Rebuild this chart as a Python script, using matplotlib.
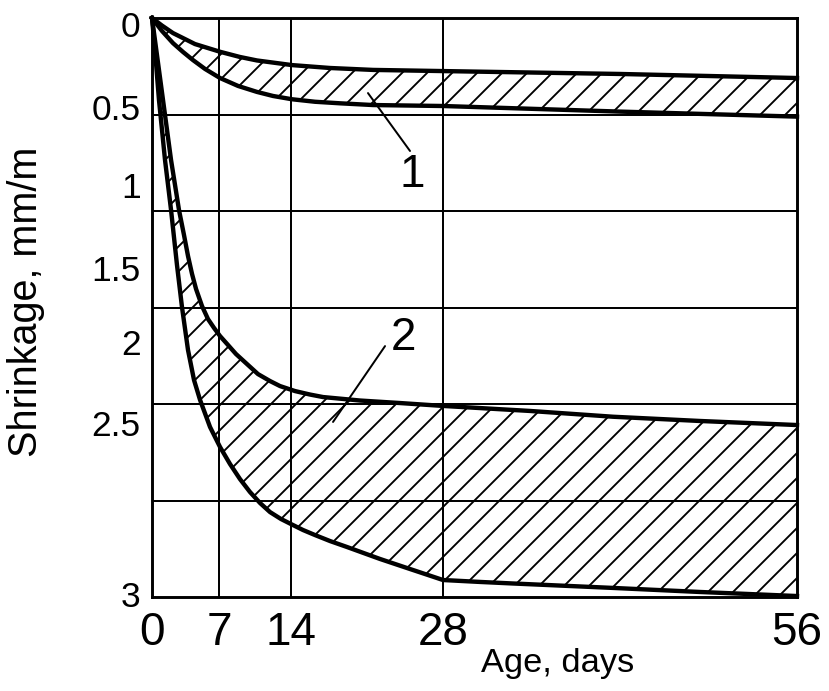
import numpy as np
import matplotlib
matplotlib.use("Agg")
import matplotlib.pyplot as plt

plt.rcParams['font.family'] = ['Liberation Sans', 'DejaVu Sans']
plt.rcParams['hatch.linewidth'] = 0.9

# age axis is drawn with uneven spacing between the marked days
axis_days = [0, 7, 14, 28, 56]
axis_frac = [0, 0.1039, 0.2155, 0.4512, 1.0]

# band 1: upper and lower bounding curves (age in days, shrinkage in mm/m)
band1_top_days = [0, 1.04, 2.19, 4.49, 7.10, 9.04, 10.69, 14.09, 17.59, 21.55, 28, 42, 56]
band1_top_val = [0, 0.039, 0.078, 0.135, 0.175, 0.202, 0.220, 0.244, 0.259, 0.269, 0.275, 0.290, 0.311]
band1_bot_days = [0, 1.04, 2.19, 3.24, 4.28, 5.54, 7.10, 8.85, 10.69, 12.25, 14.09, 16.21, 18.51,
                  21.55, 28, 42, 56]
band1_bot_val = [0, 0.067, 0.130, 0.176, 0.218, 0.264, 0.311, 0.352, 0.383, 0.404, 0.421, 0.434, 0.442,
                 0.451, 0.456, 0.485, 0.511]

# band 2
band2_top_days = [0, 0.52, 1.15, 1.99, 2.82, 3.34, 3.76, 4.18, 4.60, 5.22, 5.85, 6.48, 7.10, 7.87,
                  8.65, 9.72, 10.79, 11.96, 12.93, 14.37, 15.75, 16.95, 20.36, 24.04, 28, 34.88,
                  41.45, 48.33, 56]
band2_top_val = [0, 0.192, 0.425, 0.736, 0.995, 1.124, 1.233, 1.326, 1.404, 1.492, 1.560, 1.606,
                 1.648, 1.694, 1.741, 1.793, 1.845, 1.881, 1.907, 1.933, 1.951, 1.964, 1.982,
                 1.995, 2.010, 2.036, 2.066, 2.088, 2.109]
band2_bot_days = [0, 0.31, 0.73, 1.36, 1.99, 2.61, 3.13, 3.76, 4.39, 5.02, 6.06, 7.10, 8.07, 9.04,
                  10.01, 10.99, 11.96, 13.03, 14.0, 15.11, 16.21, 17.59, 19.16, 22.20, 24.96, 28,
                  30.93, 33.54, 41.45, 48.33, 56]
band2_bot_val = [0, 0.166, 0.425, 0.736, 0.995, 1.280, 1.497, 1.720, 1.876, 1.979, 2.119, 2.223,
                 2.311, 2.389, 2.456, 2.513, 2.560, 2.596, 2.622, 2.653, 2.679, 2.710, 2.741,
                 2.803, 2.855, 2.912, 2.922, 2.930, 2.953, 2.974, 2.995]

x_ticks = [0, 7, 14, 28, 56]
x_grid = [7, 14, 28]
y_grid = [0.5, 1.0, 1.5, 2.0, 2.5]
y_tick_pos = [0.03, 0.461, 0.863, 1.295, 1.681, 2.101, 2.984]
y_tick_labels = ['0', '0.5', '1', '1.5', '2', '2.5', '3']

# curve labels: (text, text position, leader start, leader tip)
callouts = [
    ('1', (25.14, 0.813), (24.96, 0.689), (21.09, 0.389)),
    ('2', (24.4, 1.658), (22.66, 1.70), (17.87, 2.093)),
]


def fwd(x):
    return np.interp(x, axis_days, axis_frac)


def inv(f):
    return np.interp(f, axis_frac, axis_days)


fig = plt.figure(figsize=(829 / 150, 691 / 150), dpi=150)
ax = fig.add_axes([152 / 829, 1 - 597 / 691, 645 / 829, 579 / 691])
ax.set_xscale('function', functions=(fwd, inv))
ax.set_xlim(0, 56)
ax.set_ylim(3, 0)

for gx in x_grid:
    ax.axvline(gx, color='black', lw=0.95, zorder=1)
for gy in y_grid:
    ax.axhline(gy, color='black', lw=0.95, zorder=1)

bands = [
    (band1_top_days, band1_top_val, band1_bot_days, band1_bot_val),
    (band2_top_days, band2_top_val, band2_bot_days, band2_bot_val),
]
for td, tv, bd, bv in bands:
    xs = list(td) + list(bd[::-1])
    ys = list(tv) + list(bv[::-1])
    ax.fill(xs, ys, facecolor='none', edgecolor='black', hatch='//', linewidth=0, zorder=2)
    ax.plot(td, tv, color='black', lw=2.1, solid_joinstyle='round', zorder=3, clip_on=False)
    ax.plot(bd, bv, color='black', lw=2.1, solid_joinstyle='round', zorder=3, clip_on=False)

for label, txt_pos, start, tip in callouts:
    ax.annotate('', xy=tip, xytext=start,
                arrowprops=dict(arrowstyle='-', color='black', lw=0.95,
                                shrinkA=0, shrinkB=0))
    ax.text(txt_pos[0], txt_pos[1], label, fontsize=22, ha='center', va='center')

ax.set_xticks(x_ticks)
ax.set_xticklabels([str(t) for t in x_ticks], fontsize=22)
ax.set_yticks(y_tick_pos)
ax.set_yticklabels(y_tick_labels, fontsize=17)
ax.xaxis.set_minor_locator(matplotlib.ticker.NullLocator())
ax.tick_params(axis='both', length=0)
ax.tick_params(axis='x', pad=6.5)
ax.tick_params(axis='y', pad=5.5)

for sp in ax.spines.values():
    sp.set_linewidth(1.4)

ax.set_xlabel('Age, days', fontsize=16.5)
ax.xaxis.set_label_coords(0.6295, -0.088)
ax.set_ylabel('Shrinkage, mm/m', fontsize=19)
ax.yaxis.set_label_coords(-0.166, 0.5095)

fig.savefig('out.png', dpi=150)
